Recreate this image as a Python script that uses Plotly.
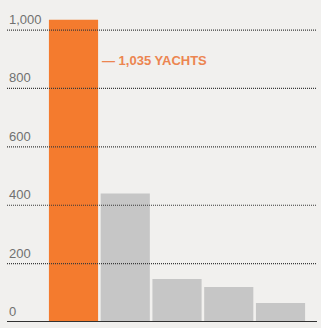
import plotly.graph_objects as go

categories = ["A", "B", "C", "D", "E"]
values = [1035, 440, 147, 120, 65]
bar_colors = ["#F47B2E", "#C6C6C6", "#C6C6C6", "#C6C6C6", "#C6C6C6"]
tick_values = [0, 200, 400, 600, 800, 1000]
tick_labels = ["0", "200", "400", "600", "800", "1,000"]
annotation_text = "— 1,035 YACHTS"

x_pos = list(range(len(categories)))

fig = go.Figure()
fig.add_trace(go.Bar(x=x_pos, y=values, marker=dict(color=bar_colors, line=dict(width=0)),
                     width=0.95, hoverinfo="skip"))

shapes = []
for v in tick_values[1:]:
    shapes.append(dict(type="line", xref="paper", yref="y", x0=0, x1=1, y0=v, y1=v,
                       line=dict(color="#3a3a3a", width=1.2, dash="1px,1px"), layer="above"))
shapes.append(dict(type="line", xref="paper", yref="y", x0=0, x1=1, y0=0, y1=0,
                   line=dict(color="#333333", width=2), layer="above"))

annotations = []
for v, t in zip(tick_values, tick_labels):
    annotations.append(dict(xref="paper", yref="y", x=0, y=v, text=t, showarrow=False,
                            xanchor="left", yanchor="bottom", yshift=1,
                            font=dict(family="Liberation Sans Narrow, Liberation Sans, Arial", size=13, color="#707070")))
annotations.append(dict(xref="x", yref="y", x=0.52, y=897, text=annotation_text, showarrow=False,
                        xanchor="left", yanchor="middle",
                        font=dict(family="Liberation Sans Narrow, Liberation Sans, Arial", size=13, color="#EC8550",
                                  weight="bold")))

fig.update_layout(
    width=321, height=328,
    margin=dict(l=7, r=4, t=0, b=6),
    paper_bgcolor="#F1F0EE", plot_bgcolor="#F1F0EE",
    showlegend=False,
    xaxis=dict(range=[-1.285, 4.705], showgrid=False, zeroline=False, showticklabels=False, fixedrange=True),
    yaxis=dict(range=[0, 1103], showgrid=False, zeroline=False, showticklabels=False, fixedrange=True),
    shapes=shapes, annotations=annotations,
)

fig.write_html("out.html", config={"displayModeBar": False},
               post_script="document.body.style.margin='0';document.body.style.overflow='hidden';")
